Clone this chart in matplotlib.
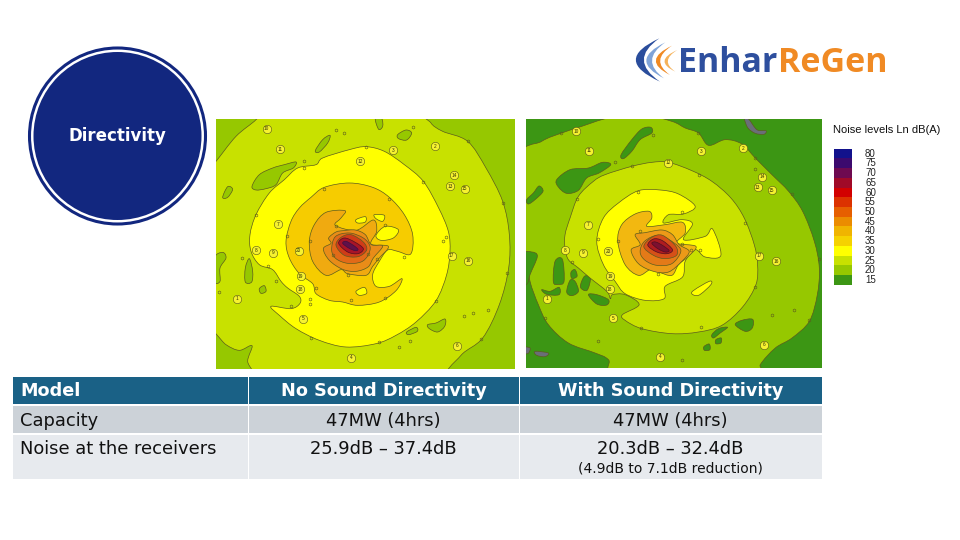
import matplotlib
matplotlib.use("Agg")
import matplotlib.pyplot as plt
from matplotlib.patches import Circle, PathPatch, Rectangle
from matplotlib.path import Path

W, H = 960, 540

# legend
levels = [80, 75, 70, 65, 60, 55, 50, 45, 40, 35, 30, 25, 20, 15]
level_colors = ["#12128c", "#3c0a6e", "#6e0a50", "#a00a28", "#d20000", "#dc3200", "#e65f00",
                "#eb8c00", "#f0b400", "#f5d200", "#ffff00", "#c8e100", "#96c800", "#3c9614"]
lc = dict(zip(levels, level_colors))

# table
table_header = ["Model", "No Sound Directivity", "With Sound Directivity"]
table_capacity = ["Capacity", "47MW (4hrs)", "47MW (4hrs)"]
table_noise = ["Noise at the receivers", "25.9dB – 37.4dB", "20.3dB – 32.4dB"]
table_note = "(4.9dB to 7.1dB reduction)"

# receivers
rec_names = ["10", "11", "12", "3", "2", "14", "13", "15", "7", "8", "9", "20", "17", "16", "19", "18", "1", "5", "4", "6"]
rec_left = [(152, 33), (192, 94), (432, 130), (531, 96), (657, 84), (715, 172), (703, 204), (746, 213), (187, 318),
            (119, 396), (172, 404), (248, 399), (707, 413), (757, 429), (254, 474), (253, 514), (64, 543), (262, 603),
            (405, 719), (722, 683)]
rec_right = [(154, 40), (192, 99), (430, 135), (527, 100), (652, 90), (710, 177), (697, 208), (739, 217), (188, 321),
             (121, 397), (175, 405), (249, 400), (701, 413), (752, 430), (255, 474), (254, 514), (67, 543), (263, 601),
             (405, 716), (716, 680)]

# small contour level tags and spots
tags_left = [(450, 88), (622, 193), (860, 255), (755, 70), (873, 465), (795, 663), (660, 548), (490, 673), (285, 660),
             (225, 565), (155, 443), (120, 290), (265, 150), (325, 212), (518, 242), (213, 354), (283, 368), (360, 325),
             (508, 320), (565, 418), (507, 540), (405, 545), (300, 510), (395, 470), (483, 423), (455, 408), (352, 410),
             (360, 35), (385, 45), (590, 28), (10, 523), (283, 543), (283, 558), (180, 490), (78, 421), (815, 575),
             (745, 593), (550, 688), (583, 670), (772, 585), (690, 358), (680, 368), (265, 130)]
tags_right = [(430, 135), (520, 172), (660, 315), (690, 507), (528, 628), (348, 630), (155, 243), (140, 433), (340, 222),
              (470, 283), (218, 362), (280, 368), (345, 340), (470, 378), (498, 395), (525, 395), (400, 468), (690, 120),
              (60, 600), (220, 668), (800, 228), (880, 422), (850, 605), (805, 575), (470, 727), (740, 592), (690, 152),
              (320, 143), (108, 45), (385, 50), (270, 132), (518, 45)]

# left map contours, no directivity
left_20 = [
    [(-20, -20), (130, -20), (120, 5), (60, 55), (0, 130), (-20, 150)],
    [(640, -20), (920, -20), (920, 780), (700, 780), (735, 712), (800, 660), (850, 560), (878, 450), (880, 350),
     (860, 250), (810, 150), (755, 70), (680, 40), (645, 15)],
    [(-20, 640), (30, 680), (70, 697), (108, 683), (95, 730), (110, 780), (-20, 780)],
    [(108, 205), (130, 170), (170, 150), (205, 140), (240, 132), (232, 150), (200, 165), (180, 200), (150, 212), (120, 216)],
    [(298, 98), (320, 65), (342, 52), (335, 75), (310, 102)],
    [(545, 50), (570, 36), (587, 45), (572, 66), (548, 62)],
    [(478, 2), (497, 2), (500, 25), (488, 34)],
    [(20, 238), (35, 206), (50, 214), (35, 238)],
    [(-5, 420), (20, 403), (30, 420), (12, 450), (12, 490), (-5, 490)],
    [(88, 450), (100, 422), (110, 460), (107, 492), (88, 492)],
    [(130, 512), (145, 503), (150, 520), (135, 526)],
    [(635, 620), (660, 615), (687, 603), (686, 625), (665, 642), (640, 632)],
    [(572, 642), (600, 628), (604, 640), (578, 650)],
]
left_30 = [[(165, 565), (225, 572), (252, 556), (250, 535), (215, 510), (195, 490), (170, 455), (130, 440), (105, 400),
            (102, 350), (120, 290), (160, 225), (205, 185), (245, 150), (300, 140), (320, 120), (400, 95), (450, 86),
            (505, 100), (565, 140), (622, 190), (668, 270), (697, 340), (702, 400), (692, 470), (660, 548), (600, 612),
            (540, 652), (480, 677), (390, 687), (310, 667), (240, 632), (190, 592)]]
left_35 = [[(210, 370), (225, 310), (250, 270), (285, 238), (325, 208), (400, 195), (470, 208), (520, 238), (565, 290),
            (590, 350), (584, 408), (545, 400), (515, 396), (490, 430), (470, 470), (480, 505), (520, 505), (558, 482),
            (540, 518), (490, 552), (425, 562), (380, 552), (340, 547), (300, 527), (290, 497), (250, 467), (220, 420)]]
left_30_holes = [[(480, 352), (508, 325), (547, 335), (532, 360), (495, 367)],
                 [(420, 520), (445, 508), (452, 526), (430, 532)],
                 [(475, 290), (505, 292), (500, 310), (480, 302)],
                 [(420, 305), (448, 296), (448, 312), (425, 315)]]
left_40 = [[(280, 370), (295, 320), (330, 283), (387, 278), (375, 300), (358, 322), (420, 337), (472, 306), (482, 340),
            (465, 378), (517, 385), (490, 420), (470, 445), (450, 472), (395, 467), (375, 455), (330, 472), (290, 430)]]
left_45 = [[(322, 392), (345, 376), (338, 360), (360, 342), (382, 338), (418, 336), (448, 350), (466, 380), (500, 384),
            (472, 420), (456, 447), (420, 460), (380, 454), (340, 427)]]
left_50 = [[(347, 396), (358, 356), (400, 345), (442, 360), (462, 385), (456, 412), (435, 432), (395, 436), (360, 422)]]
left_55 = [[(360, 382), (375, 358), (405, 350), (442, 372), (452, 396), (426, 416), (385, 412)]]
left_60 = [[(368, 376), (385, 360), (416, 372), (442, 392), (426, 407), (395, 402)]]
left_70 = [[(380, 376), (390, 370), (412, 382), (426, 394), (418, 398), (398, 390)]]

# right map contours, with directivity
right_20 = [[(-20, 125), (50, 70), (110, 45), (170, 25), (250, 0), (350, -10), (440, 10), (480, 30), (520, 45), (550, 82),
             (600, 65), (650, 78), (690, 120), (740, 170), (790, 220), (832, 280), (867, 370), (882, 450), (876, 530),
             (852, 610), (800, 660), (750, 690), (705, 740), (695, 780), (290, 780), (250, 725), (210, 705), (130, 675),
             (70, 620), (40, 560), (15, 490), (5, 420), (-20, 400)]]
right_15_islands = [
    [(95, 185), (135, 155), (190, 150), (232, 133), (257, 140), (222, 165), (185, 180), (160, 217), (125, 226), (100, 207)],
    [(288, 110), (320, 65), (350, 33), (377, 28), (380, 45), (345, 65), (320, 100), (295, 122)],
    [(5, 245), (25, 225), (42, 204), (54, 220), (30, 245), (10, 258)],
    [(-5, 410), (20, 402), (37, 415), (15, 470), (8, 495), (-5, 495)],
    [(85, 492), (90, 430), (112, 424), (117, 490), (100, 499)],
    [(125, 522), (135, 487), (150, 490), (160, 520), (140, 533)],
    [(166, 507), (178, 475), (196, 480), (186, 517)],
    [(190, 530), (215, 530), (250, 545), (245, 561), (215, 558)],
    [(50, 515), (75, 520), (102, 508), (102, 530), (65, 529)],
    [(138, 462), (150, 455), (156, 475), (140, 481)],
    [(630, 620), (650, 607), (682, 604), (681, 630), (660, 640)],
    [(560, 650), (580, 632), (607, 628), (585, 645), (565, 660)],
    [(536, 686), (552, 678), (554, 695), (538, 697)],
    [(572, 665), (588, 660), (587, 675), (572, 677)],
]
right_grey = [[(658, 3), (670, 3), (695, 35), (722, 38), (716, 49), (690, 46), (668, 30)],
              [(-5, 688), (15, 690), (10, 706), (-5, 705)],
              [(30, 700), (70, 705), (60, 716), (35, 712)]]
right_25 = [[(120, 350), (135, 300), (160, 235), (205, 190), (240, 170), (320, 145), (380, 133), (430, 133), (500, 158),
             (560, 190), (617, 240), (657, 300), (687, 380), (697, 440), (692, 500), (652, 567), (590, 622), (520, 642),
             (440, 647), (350, 632), (300, 607), (292, 590), (342, 560), (300, 530), (262, 530), (256, 542), (245, 520),
             (195, 480), (160, 450), (130, 425), (120, 390)]]
right_30 = [[(215, 370), (235, 300), (280, 255), (340, 218), (405, 216), (460, 228), (510, 265), (475, 288), (430, 290),
             (415, 315), (470, 305), (502, 318), (475, 365), (540, 355), (562, 333), (587, 412), (540, 417), (510, 395),
             (480, 430), (472, 477), (420, 505), (417, 542), (360, 547), (300, 527), (270, 490), (235, 440)],
            [(500, 522), (552, 490), (557, 500), (520, 532)]]
right_35 = [[(278, 370), (290, 320), (330, 288), (372, 280), (380, 300), (365, 325), (420, 320), (472, 313), (480, 345),
             (455, 375), (512, 385), (490, 415), (460, 440), (440, 472), (400, 462), (375, 455), (340, 472), (300, 440)]]
right_40 = [[(318, 396), (345, 380), (330, 350), (360, 344), (410, 336), (442, 350), (462, 380), (492, 400), (470, 430),
             (430, 462), (385, 460), (340, 437)]]
right_45 = [[(345, 402), (358, 370), (400, 352), (447, 375), (467, 400), (440, 437), (395, 442), (360, 427)]]
right_50 = [[(356, 386), (380, 358), (412, 352), (452, 385), (454, 412), (420, 422), (385, 412)]]
right_55 = [[(368, 382), (385, 363), (412, 368), (442, 395), (426, 407), (395, 402)]]
right_60 = [[(380, 376), (392, 372), (415, 384), (432, 398), (420, 402), (398, 392)]]


def smooth_path(pts):
    # closed curve through the read points (catmull-rom as bezier)
    n = len(pts)
    verts = [pts[0]]
    codes = [Path.MOVETO]
    for i in range(n):
        p0, p1, p2, p3 = pts[i - 1], pts[i], pts[(i + 1) % n], pts[(i + 2) % n]
        verts.append((p1[0] + (p2[0] - p0[0]) / 6, p1[1] + (p2[1] - p0[1]) / 6))
        verts.append((p2[0] - (p3[0] - p1[0]) / 6, p2[1] - (p3[1] - p1[1]) / 6))
        verts.append(p2)
        codes += [Path.CURVE4, Path.CURVE4, Path.CURVE4]
    return Path(verts, codes)


def draw_band(ax, polys, color, edge="#5c5c1e", lw=0.5):
    for p in polys:
        ax.add_patch(PathPatch(smooth_path(p), facecolor=color, edgecolor=edge, linewidth=lw))


def px_axes(x0, y0, x1, y1):
    return fig.add_axes([x0 / W, 1 - y1 / H, (x1 - x0) / W, (y1 - y0) / H])


fig = plt.figure(figsize=(9.6, 5.4), dpi=100)
page = fig.add_axes([0, 0, 1, 1])
page.set_xlim(0, W)
page.set_ylim(H, 0)
page.axis("off")

# circle badge
page.add_patch(Circle((117.5, 136), 88, facecolor="white", edgecolor="#12277f", linewidth=2.2))
page.add_patch(Circle((117.5, 136), 84, facecolor="#12277f", edgecolor="none"))
page.text(117.5, 136, "Directivity", color="white", fontsize=12, fontweight="bold",
          family="DejaVu Sans", ha="center", va="center")

# left map
ax1 = px_axes(216, 119, 515, 369)
ax1.set_xlim(0, 897)
ax1.set_ylim(753, 3)
ax1.axis("off")
ax1.add_patch(Rectangle((0, 0), 900, 760, facecolor=lc[25], edgecolor="none"))
draw_band(ax1, left_20, lc[20])
draw_band(ax1, left_30, lc[30])
draw_band(ax1, left_35, "#f6cc00")
draw_band(ax1, left_30_holes, lc[30])
draw_band(ax1, left_40, "#f0aa10")
draw_band(ax1, left_45, "#e98c18")
draw_band(ax1, left_50, "#e26a18")
draw_band(ax1, left_55, "#cf3c18")
draw_band(ax1, left_60, "#a81428", edge="#501020")
draw_band(ax1, left_70, "#60104a", edge="#401040")

# right map
ax2 = px_axes(526, 119, 822, 368)
ax2.set_xlim(3, 890)
ax2.set_ylim(750, 3)
ax2.axis("off")
ax2.add_patch(Rectangle((0, 0), 900, 760, facecolor=lc[15], edgecolor="none"))
draw_band(ax2, right_20, lc[20])
draw_band(ax2, right_15_islands, lc[15])
draw_band(ax2, right_grey, "#6a6e78")
draw_band(ax2, right_25, lc[25])
draw_band(ax2, right_30, lc[30])
draw_band(ax2, right_35, "#f2b810")
draw_band(ax2, right_40, "#ec9a18")
draw_band(ax2, right_45, "#e47a18")
draw_band(ax2, right_50, "#d65018")
draw_band(ax2, right_55, "#ae1c20", edge="#501020")
draw_band(ax2, right_60, "#7c1030", edge="#501020")

for ax, tags in [(ax1, tags_left), (ax2, tags_right)]:
    ax.plot([t[0] for t in tags], [t[1] for t in tags], "h", ms=2.2, mfc="none", mec="#5c5c1e", mew=0.4)

for ax, recs in [(ax1, rec_left), (ax2, rec_right)]:
    for name, (x, y) in zip(rec_names, recs):
        ax.plot(x, y, "o", ms=6, mfc="#f6f230", mec="#55551a", mew=0.4)
        ax.text(x, y, name, fontsize=3.4, ha="center", va="center", color="#333300", family="Liberation Sans")

# legend
page.text(833, 130, "Noise levels Ln dB(A)", fontsize=8, family="Liberation Sans", color="#111111", va="center")
top = 148.7
step = (284.7 - 148.7) / len(levels)
for i, (lev, col) in enumerate(zip(levels, level_colors)):
    page.add_patch(Rectangle((834, top + i * step), 18, step, facecolor=col, edgecolor="none"))
    page.text(865, top + 5 + i * step, str(lev), fontsize=7, family="Liberation Sans", color="#222222", va="center")

# table
col_x = [13, 248, 519, 822]
rows = [(377, 404, "#1a6186"), (406, 433, "#ccd2d8"), (435, 479, "#e7eaee")]
for y0, y1, col in rows:
    for j in range(3):
        page.add_patch(Rectangle((col_x[j] + (1 if j else 0), y0), col_x[j + 1] - col_x[j] - (1 if j else 0), y1 - y0,
                                 facecolor=col, edgecolor="none"))
for j, name in enumerate(table_header):
    x = 20 if j == 0 else (col_x[j] + col_x[j + 1]) / 2
    page.text(x, 391.5, name, color="white", fontsize=12.7, fontweight="bold", family="DejaVu Sans",
              ha="left" if j == 0 else "center", va="center")
for j in range(3):
    x = 20 if j == 0 else (col_x[j] + col_x[j + 1]) / 2
    ha = "left" if j == 0 else "center"
    page.text(x, 420.5, table_capacity[j], color="#111111", fontsize=12.9, family="DejaVu Sans", ha=ha, va="center")
    page.text(x, 449.5, table_noise[j], color="#111111", fontsize=12.9, family="DejaVu Sans", ha=ha, va="center")
page.text(670.5, 468, table_note, color="#111111", fontsize=10, family="DejaVu Sans", ha="center", va="center")

# logo, coordinates as in the zoomed crop
logo = px_axes(620, 25, 900, 95)
logo.set_xlim(0, 840)
logo.set_ylim(210, 0)
logo.axis("off")
arc_tops = [(118, 40), (136, 52), (156, 62), (172, 75)]
arc_bottoms = [(120, 170), (132, 160), (150, 150), (166, 140)]
arc_outer = [-24, 24, 62, 98]
arc_inner = [24, 58, 88, 118]
arc_colors = ["#2a4d9c", "#7fa3d8", "#f08a24", "#f5b25a"]
for t, b, o, i, c in zip(arc_tops, arc_bottoms, arc_outer, arc_inner, arc_colors):
    my = (t[1] + b[1]) / 2
    path = Path([t, (o, my), b, (i, my), t], [Path.MOVETO, Path.CURVE3, Path.CURVE3, Path.CURVE3, Path.CURVE3])
    logo.add_patch(PathPatch(path, facecolor=c, edgecolor="none"))
t1 = logo.text(174, 115, "Enhar", color="#2e4f9e", fontsize=24.5, fontweight="bold", family="Open Sans", va="center")
fig.canvas.draw()
bb = t1.get_window_extent().transformed(logo.transData.inverted())
logo.text(bb.x1 + 3, 115, "ReGen", color="#f08a24", fontsize=24.5, fontweight="bold", family="Open Sans", va="center")

fig.savefig("out.png", dpi=100)
